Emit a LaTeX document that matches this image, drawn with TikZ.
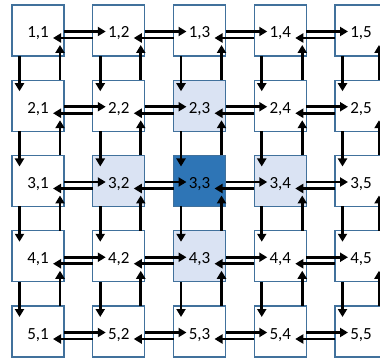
\documentclass[tikz,border=0pt]{standalone}
\usepackage{fontspec}
\setmainfont{Carlito}
\usetikzlibrary{arrows.meta}
\definecolor{cellborder}{HTML}{41719C}
\definecolor{celllight}{HTML}{DAE3F3}
\definecolor{celldark}{HTML}{2E75B6}
\tikzset{
  cell/.style={draw=cellborder, line width=1.3pt, fill=white, minimum width=52pt, minimum height=51pt,
    inner sep=0pt, outer sep=0pt, font=\fontsize{17}{19}\selectfont, text height=15pt, text depth=0pt},
  near/.style={cell, fill=celllight},
  centre/.style={cell, fill=celldark},
  arr/.style={line width=2.9pt, -{Triangle[length=8pt,width=9pt]}},
}
\begin{document}
\begin{tikzpicture}[x=1pt,y=-1pt]
\useasboundingbox (0,0) rectangle (380,358);
\clip (0,0) rectangle (380,358);
\foreach \i in {1,...,5}{
  \foreach \j in {1,...,5}{
    \pgfmathsetmacro{\cx}{12+80.75*(\j-1)+26}
    \pgfmathsetmacro{\cy}{5+75.25*(\i-1)+25.5}
    \pgfmathtruncatemacro{\dist}{abs(\i-3)+abs(\j-3)}
    \ifnum\dist=0
      \node[centre] (n\i\j) at (\cx,\cy) {\i,\j};
    \else\ifnum\dist=1
      \node[near] (n\i\j) at (\cx,\cy) {\i,\j};
    \else
      \node[cell] (n\i\j) at (\cx,\cy) {\i,\j};
    \fi\fi
  }
}
% horizontal pairs
\foreach \i in {1,...,5}{
  \foreach \j [evaluate=\j as \k using int(\j+1)] in {1,...,4}{
    \draw[arr] ([yshift=-1pt]n\i\j.east) -- ([xshift=13pt,yshift=-1pt]n\i\k.west);
    \draw[arr] ([yshift=-7.5pt]n\i\k.west) -- ([xshift=-11pt,yshift=-7.5pt]n\i\j.east);
  }
}
% vertical pairs
\foreach \i [evaluate=\i as \k using int(\i+1)] in {1,...,4}{
  \foreach \j in {1,...,5}{
    \draw[arr] ([xshift=-18.5pt]n\i\j.south) -- ([xshift=-18.5pt,yshift=-11pt]n\k\j.north);
    \ifnum\j=5
      \draw[arr] ([xshift=18pt]n\k\j.north) -- ([xshift=18pt,yshift=11pt]n\i\j.south);
    \else
      \draw[arr] ([xshift=22pt]n\k\j.north) -- ([xshift=22pt,yshift=11pt]n\i\j.south);
    \fi
  }
}
\end{tikzpicture}
\end{document}
